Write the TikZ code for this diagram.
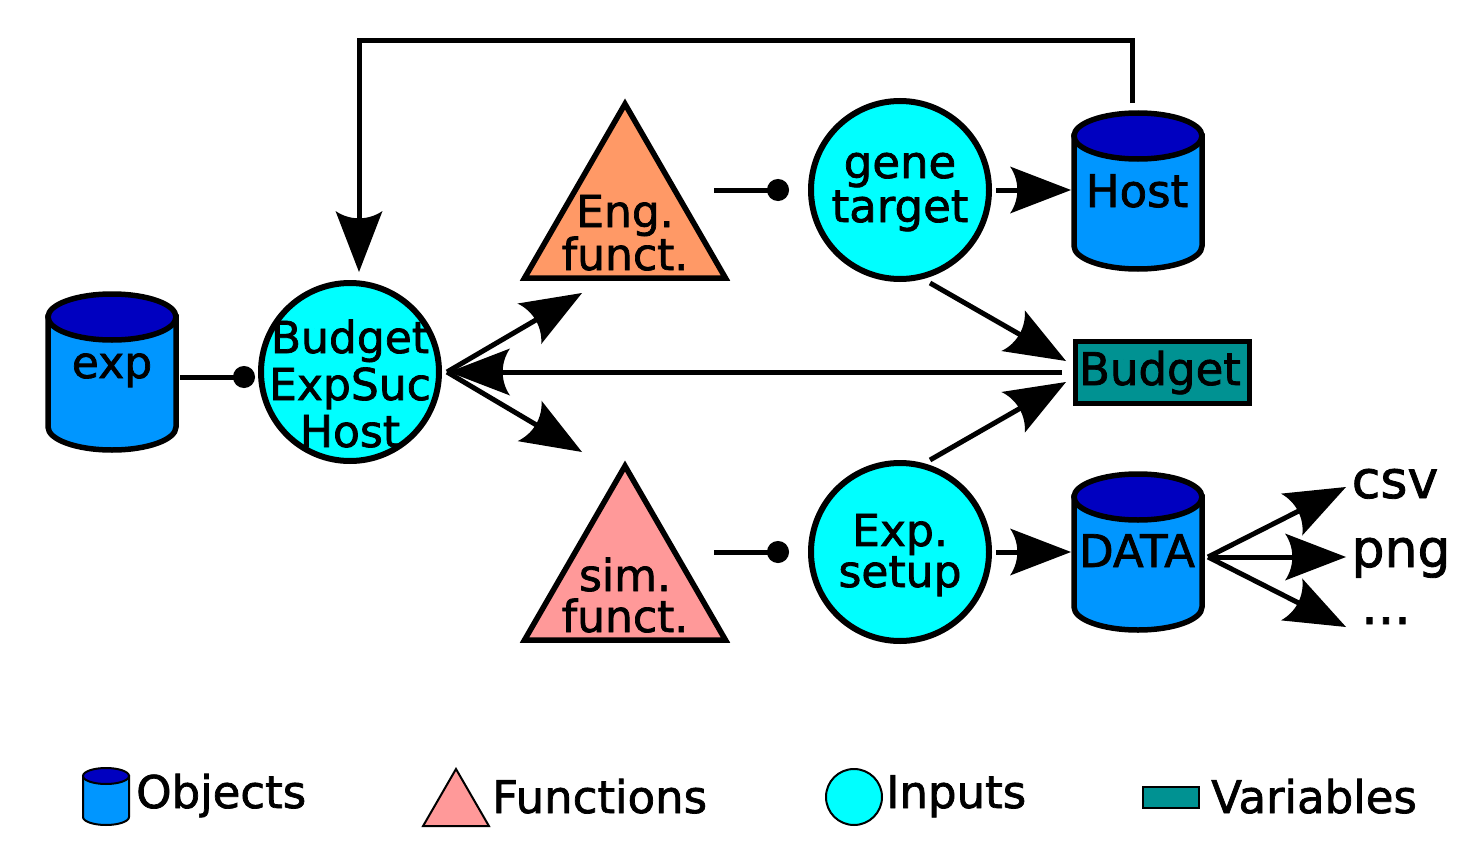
\documentclass[tikz,border=0pt]{standalone}
\usepackage{fontspec}
\setmainfont{DejaVu Sans}[FakeBold=1.6]
\usetikzlibrary{arrows.meta,shapes.geometric}
\definecolor{objbody}{RGB}{0,150,255}
\definecolor{objtop}{RGB}{0,0,192}
\definecolor{inp}{RGB}{0,255,255}
\definecolor{varc}{RGB}{0,146,146}
\definecolor{engc}{RGB}{255,153,102}
\definecolor{simc}{RGB}{255,153,153}
\pgfdeclarearrow{
  name = ArrowTwo,
  parameters = {\the\pgfarrowlength,\the\pgfarrowwidth},
  setup code = {
    \pgfarrowssettipend{0pt}
    \pgfarrowssetlineend{-0.75\pgfarrowlength}
    \pgfarrowssetbackend{-\pgfarrowlength}
    \pgfarrowshullpoint{0pt}{0pt}
    \pgfarrowsupperhullpoint{-\pgfarrowlength}{0.5\pgfarrowwidth}
    \pgfarrowssavethe\pgfarrowlength
    \pgfarrowssavethe\pgfarrowwidth
  },
  drawing code = {
    \pgfpathmoveto{\pgfpointorigin}
    \pgfpathlineto{\pgfqpoint{-\pgfarrowlength}{-0.5\pgfarrowwidth}}
    \pgfpathcurveto{\pgfqpoint{-0.84\pgfarrowlength}{-0.2\pgfarrowwidth}}{\pgfqpoint{-0.84\pgfarrowlength}{0.2\pgfarrowwidth}}{\pgfqpoint{-\pgfarrowlength}{0.5\pgfarrowwidth}}
    \pgfpathclose
    \pgfusepathqfill
  },
  defaults = {length = 60pt, width = 45pt}
}
\newcommand\drawcyl[6]{%
  \filldraw[fill=objbody, line width=#6] (#1-#4,#2) -- (#1-#4,#3) arc[start angle=180,end angle=360,x radius=#4pt,y radius=#5pt] -- (#1+#4,#2) -- cycle;
  \filldraw[fill=objtop, line width=#6] (#1,#2) ellipse[x radius=#4pt,y radius=#5pt];}
\tikzset{
  inpc/.style={circle, draw, line width=6pt, fill=inp, minimum size=178pt, inner sep=0pt},
  tri/.style={regular polygon, regular polygon sides=3, draw, line width=5.5pt, minimum size=232pt, inner sep=0pt},
  lbl/.style={align=center, inner sep=0pt, anchor=base},
  big/.style={-{ArrowTwo[length=61pt,width=47pt]}, line width=5pt},
  dotline/.style={-{Circle[length=22pt]}, line width=5pt},
  leg/.style={inner sep=0pt, anchor=base west, font=\fontsize{45}{45}\selectfont},
}
\begin{document}
\begin{tikzpicture}[x=1pt,y=-1pt]
\useasboundingbox (0,0) rectangle (1476,859);
% cylinders
\drawcyl{112}{317}{427}{64}{23}{5.5pt}
\drawcyl{1138}{136}{246}{64}{23}{5.5pt}
\drawcyl{1138}{497}{607}{64}{23}{5.5pt}
\node[lbl, font=\fontsize{44}{44}\selectfont] (exp) at (112,378) {exp};
\node[lbl, font=\fontsize{45}{45}\selectfont] (host) at (1137,207) {Host};
\node[lbl, font=\fontsize{45}{45}\selectfont] (data) at (1137,567) {DATA};
% inputs
\node[inpc] (bud) at (350,372) {};
\node[inpc] (gt) at (900,190) {};
\node[inpc] (es) at (900,552) {};
\node[lbl, font=\fontsize{44}{47}\selectfont] (budt) at (350,447) {Budget\\ExpSuc\\Host};
\node[lbl, font=\fontsize{45}{44}\selectfont] (gtt) at (900,222) {gene\\target};
\node[lbl, font=\fontsize{44}{40}\selectfont] (est) at (900,587) {Exp.\\setup};
% functions
\node[tri, fill=engc] (eng) at (625,220) {};
\node[tri, fill=simc] (sim) at (625,582) {};
\node[lbl, font=\fontsize{44}{43}\selectfont] (engt) at (625,270) {Eng.\\funct.};
\node[lbl, font=\fontsize{44}{41}\selectfont] (simt) at (625,632) {sim.\\funct.};
% variable
\node[draw, line width=5pt, fill=varc, minimum width=174pt, minimum height=62pt, inner sep=0pt] (var) at (1162,372) {};
\node[lbl, font=\fontsize{45}{45}\selectfont] (vart) at (1160,385) {Budget};
% outputs
\node[lbl, font=\fontsize{52}{52}\selectfont] (csv) at (1395,498) {csv};
\node[lbl, font=\fontsize{52}{52}\selectfont] (png) at (1401,567) {png};
\node[lbl, font=\fontsize{52}{52}\selectfont] (dots) at (1386,624) {...};
% coordinates
\coordinate (expR) at (180,377);
\coordinate (budDot) at (255,377);
\coordinate (engR) at (714,190);
\coordinate (gtDot) at (789,190);
\coordinate (simR) at (714,552);
\coordinate (esDot) at (789,552);
\coordinate (budE) at (447,372);
\coordinate (engIn) at (582,293);
\coordinate (simIn) at (582,452);
\coordinate (varW) at (1062,372);
\coordinate (budTip) at (449,372);
\coordinate (gtSE) at (930,283);
\coordinate (esNE) at (930,460);
\coordinate (varIn1) at (1066,361);
\coordinate (varIn2) at (1066,382);
\coordinate (gtE) at (996,190);
\coordinate (hostW) at (1071,190);
\coordinate (esE) at (996,552);
\coordinate (dataW) at (1071,552);
\coordinate (dataE) at (1208,557);
\coordinate (csvIn) at (1346,487);
\coordinate (pngIn) at (1346,557);
\coordinate (dotsIn) at (1346,627);
\coordinate (hostTop) at (1132,103);
\coordinate (c1) at (1132,41);
\coordinate (c2) at (359,41);
\coordinate (budTop) at (359,272);
% connectors
\draw[dotline] (expR) -- (budDot);
\draw[dotline] (engR) -- (gtDot);
\draw[dotline] (simR) -- (esDot);
\draw[big] (budE) -- (engIn);
\draw[big] (budE) -- (simIn);
\draw[big] (varW) -- (budTip);
\draw[big] (gtSE) -- (varIn1);
\draw[big] (esNE) -- (varIn2);
\draw[big] (gtE) -- (hostW);
\draw[big] (esE) -- (dataW);
\draw[big] (dataE) -- (csvIn);
\draw[big] (dataE) -- (pngIn);
\draw[big] (dataE) -- (dotsIn);
\draw[big] (hostTop) -- (c1) -- (c2) -- (budTop);
% legend
\drawcyl{106}{776}{817}{23}{8}{2pt}
\node[regular polygon, regular polygon sides=3, draw, line width=2pt, fill=simc, minimum size=76pt, inner sep=0pt] (legtri) at (456,807) {};
\node[circle, draw, line width=2pt, fill=inp, minimum size=56pt, inner sep=0pt] (legcir) at (854,797) {};
\node[draw, line width=2pt, fill=varc, minimum width=56pt, minimum height=21pt, inner sep=0pt] (legvar) at (1171,797) {};
\node[leg] (legobj) at (136,808) {Objects};
\node[leg] (legfun) at (492,813) {Functions};
\node[leg] (leginp) at (886,808) {Inputs};
\node[leg] (legvart) at (1211,813) {Variables};
\end{tikzpicture}
\end{document}
